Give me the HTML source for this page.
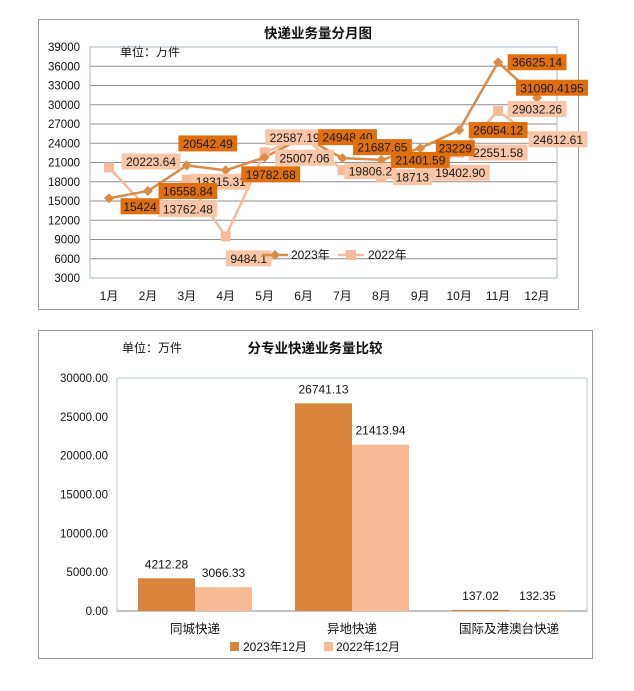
<!DOCTYPE html>
<html><head><meta charset="utf-8"><style>
html,body{margin:0;padding:0;background:#fff;}
svg text{font-family:"Liberation Sans","Noto Sans CJK SC",sans-serif;}
</style></head><body>
<svg id="svg" width="634" height="686" viewBox="0 0 634 686" xmlns="http://www.w3.org/2000/svg">
<rect x="0" y="0" width="634" height="686" fill="#fff"/>
<g id="topg">
<rect x="38.5" y="19.5" width="540" height="290" fill="#fff" stroke="#9a9a9a"/>
<text x="318" y="38" text-anchor="middle" font-size="13.5" font-weight="bold" fill="#111">快递业务量分月图</text>
<text x="120" y="56" font-size="12" fill="#111">单位：万件</text>
</g>
<g id="botg">
<rect x="38.5" y="330.5" width="554" height="328" fill="#fff" stroke="#9a9a9a"/>
<text x="122" y="352" font-size="12" fill="#111">单位：万件</text>
<text x="315" y="353" text-anchor="middle" font-size="13.5" font-weight="bold" fill="#111">分专业快递业务量比较</text>
</g>
</svg>
<script>
const months = ["1月","2月","3月","4月","5月","6月","7月","8月","9月","10月","11月","12月"];
const yTicks = [3000,6000,9000,12000,15000,18000,21000,24000,27000,30000,33000,36000,39000];
const s2023 = [15424,16558.84,20542.49,19782.68,21800,24948.40,21687.65,21401.59,23229,26054.12,36625.14,31090.42];
const l2023 = ["15424","16558.84","20542.49","19782.68","","24948.40","21687.65","21401.59","23229","26054.12","36625.14","31090.4195"];
const s2022 = [20223.64,13762.48,18315.31,9484.1,22587.19,25007.06,19806.2,18713,19402.90,22551.58,29032.26,24612.61];
const l2022 = ["20223.64","13762.48","18315.31","9484.1","22587.19","25007.06","19806.2","18713","19402.90","22551.58","29032.26","24612.61"];
const categories = ["同城快递","异地快递","国际及港澳台快递"];
const bar2023 = [4212.28,26741.13,137.02];
const bar2022 = [3066.33,21413.94,132.35];
const barTicks = [0,5000,10000,15000,20000,25000,30000];

const NS="http://www.w3.org/2000/svg";
function mk(tag,attrs,parent,txt){const e=document.createElementNS(NS,tag);for(const k in attrs)e.setAttribute(k,attrs[k]);if(txt!==undefined)e.textContent=txt;parent.appendChild(e);return e;}
const gTop=document.getElementById('topg'), gBot=document.getElementById('botg');

// ---- line chart
const L={x0:90,x1:557,y0:278,y1:47};
const yv=v=>L.y0-(v-3000)/36000*(L.y0-L.y1);
const xm=i=>109+i*(537-109)/11;
yTicks.forEach(t=>{
  const g=mk('line',{x1:L.x0,x2:L.x1,y1:yv(t),y2:yv(t),stroke:'#8f8f8f','stroke-width':1},gTop);
  
  
  const tl=mk('text',{x:80,y:yv(t)+4,'text-anchor':'end','font-size':11.5,fill:'#111'},gTop,String(t));
  
  
});
const pb=mk('rect',{x:L.x0,y:L.y1,width:L.x1-L.x0,height:L.y0-L.y1,fill:'none',stroke:'#a8b4c4'},gTop);


months.forEach((m,i)=>{
  const t=mk('text',{x:xm(i),y:300,'text-anchor':'middle','font-size':12,fill:'#111'},gTop,m);
  
  
});
const c23='#D98B48', c22='#F5BA9C';
const p22=mk('polyline',{points:s2022.map((v,i)=>xm(i)+','+yv(v)).join(' '),fill:'none',stroke:c22,'stroke-width':2.5},gTop);


const p23=mk('polyline',{points:s2023.map((v,i)=>xm(i)+','+yv(v)).join(' '),fill:'none',stroke:c23,'stroke-width':2.5},gTop);


s2022.forEach((v,i)=>{
  const r=mk('rect',{x:xm(i)-5,y:yv(v)-5,width:10,height:10,fill:c22},gTop);
  
  
});
s2023.forEach((v,i)=>{
  const x=xm(i),y=yv(v);
  const r=mk('polygon',{points:`${x},${y-5} ${x+5},${y} ${x},${y+5} ${x-5},${y}`,fill:c23},gTop);
  
  
});
const dx23=[31,40,21,45,0,44,40,39,35,39,39,15], dy23=[8,0,-22,4,0,0,-11,0,0,0,0,-10];
const dx22=[42,40,34,23,30,1,28,31,40,39,39,21], dy22=[-6,0,2,22,-15,21,1,0,0,0,-2,0];
function lbl(txt,cx,cy,bg,name){
  if(!txt)return;
  const w=txt.length*6.6+6;
  const r=mk('rect',{x:cx-w/2,y:cy-8,width:w,height:16,fill:bg},gTop);
  
  
  const t=mk('text',{x:cx,y:cy+4.5,'text-anchor':'middle','font-size':12,fill:'#1a1a1a'},gTop,txt);
  
  
}
s2022.forEach((v,i)=>lbl(l2022[i],xm(i)+dx22[i],yv(v)+dy22[i],'#F8C6A6','label-2022'));
s2023.forEach((v,i)=>lbl(l2023[i],xm(i)+dx23[i],yv(v)+dy23[i],'#E0700F','label-2023'));
// legend
const lg1=mk('line',{x1:262,x2:288,y1:255,y2:255,stroke:c23,'stroke-width':2.5},gTop);


mk('polygon',{points:'275,250 280,255 275,260 270,255',fill:c23},gTop);
const lt1=mk('text',{x:291,y:259,'font-size':12,fill:'#111'},gTop,'2023年');


const lg2=mk('line',{x1:338,x2:364,y1:255,y2:255,stroke:c22,'stroke-width':2.5},gTop);


mk('rect',{x:346,y:250,width:10,height:10,fill:c22},gTop);
const lt2=mk('text',{x:368,y:259,'font-size':12,fill:'#111'},gTop,'2022年');



// ---- bar chart
const B={x0:117,x1:587,y0:611,y1:378};
const by=v=>B.y0-v/30000*(B.y0-B.y1);
const bx=i=>195+i*157;
const bp=mk('rect',{x:B.x0,y:B.y1,width:B.x1-B.x0,height:B.y0-B.y1,fill:'none',stroke:'#b8c8d4'},gBot);


const ax=mk('line',{x1:B.x0,x2:B.x1,y1:B.y0,y2:B.y0,stroke:'#8a8a8a'},gBot);


barTicks.forEach(t=>{
  const tl=mk('text',{x:108,y:by(t)+4,'text-anchor':'end','font-size':11.5,fill:'#111'},gBot,t.toFixed(2));
  
  
});
const bw=57;
categories.forEach((c,i)=>{
  const x=bx(i);
  const r1=mk('rect',{x:x-bw,y:by(bar2023[i]),width:bw,height:B.y0-by(bar2023[i]),fill:'#D9843C'},gBot);
  
  
  const r2=mk('rect',{x:x,y:by(bar2022[i]),width:bw,height:B.y0-by(bar2022[i]),fill:'#F7B994'},gBot);
  
  
  const v1=mk('text',{x:x-bw/2,y:by(bar2023[i])-10,'text-anchor':'middle','font-size':12,fill:'#111'},gBot,bar2023[i].toFixed(2));
  
  
  const v2=mk('text',{x:x+bw/2,y:by(bar2022[i])-10,'text-anchor':'middle','font-size':12,fill:'#111'},gBot,bar2022[i].toFixed(2));
  
  
  const cl=mk('text',{x:x,y:633,'text-anchor':'middle','font-size':12.5,fill:'#111'},gBot,c);
  
  
});
const q1=mk('rect',{x:230,y:642,width:9,height:9,fill:'#D9843C'},gBot);


const bt1=mk('text',{x:243,y:651,'font-size':12,fill:'#111'},gBot,'2023年12月');


const q2=mk('rect',{x:324,y:642,width:9,height:9,fill:'#F7B994'},gBot);


const bt2=mk('text',{x:336,y:651,'font-size':12,fill:'#111'},gBot,'2022年12月');


</script>
</body></html>
